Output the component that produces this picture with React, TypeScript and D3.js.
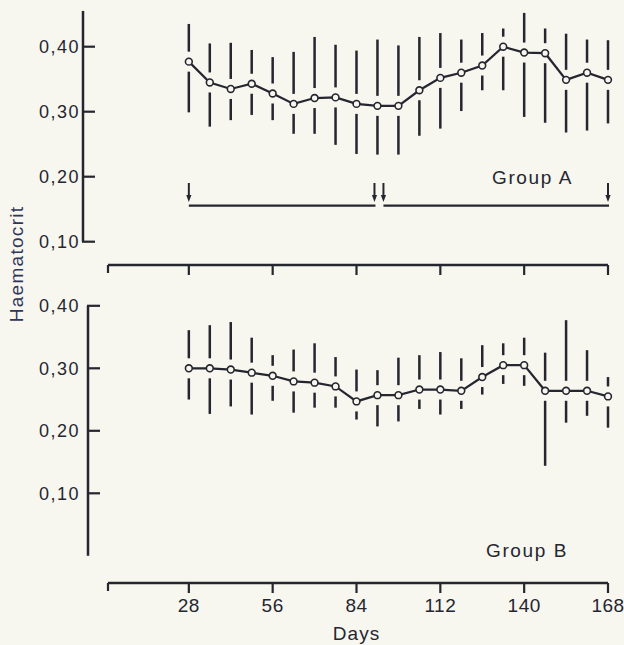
import React from "react";
import * as d3 from "d3";

const days = [28, 35, 42, 49, 56, 63, 70, 77, 84, 91, 98, 105, 112, 119, 126, 133, 140, 147, 154, 161, 168];
const groupAMean = [0.377, 0.345, 0.335, 0.343, 0.328, 0.312, 0.321, 0.322, 0.312, 0.309, 0.309, 0.333, 0.352, 0.36, 0.371, 0.4, 0.391, 0.39, 0.349, 0.36, 0.349];
const groupAHi = [0.435, 0.405, 0.406, 0.395, 0.384, 0.392, 0.415, 0.403, 0.394, 0.411, 0.402, 0.415, 0.421, 0.411, 0.421, 0.428, 0.452, 0.428, 0.42, 0.411, 0.41];
const groupALo = [0.299, 0.277, 0.287, 0.295, 0.287, 0.266, 0.266, 0.249, 0.235, 0.234, 0.234, 0.263, 0.274, 0.301, 0.333, 0.333, 0.292, 0.283, 0.268, 0.271, 0.282];
const groupBMean = [0.3, 0.3, 0.298, 0.293, 0.288, 0.279, 0.277, 0.271, 0.247, 0.257, 0.257, 0.266, 0.266, 0.264, 0.286, 0.305, 0.305, 0.264, 0.264, 0.264, 0.255];
const groupBHi = [0.361, 0.369, 0.374, 0.349, 0.321, 0.33, 0.34, 0.318, 0.298, 0.297, 0.317, 0.321, 0.326, 0.316, 0.337, 0.34, 0.349, 0.325, 0.377, 0.329, 0.286];
const groupBLo = [0.25, 0.227, 0.239, 0.226, 0.248, 0.229, 0.237, 0.237, 0.218, 0.207, 0.215, 0.235, 0.226, 0.235, 0.258, 0.275, 0.272, 0.144, 0.213, 0.224, 0.205];
const xTicks = [28, 56, 84, 112, 140, 168];
const yTicks = [0.1, 0.2, 0.3, 0.4];
const yTickLabels = ["0,10", "0,20", "0,30", "0,40"];
const arrowDays = [28, 90, 93, 168];
const periodSegments = [[28, 90], [93, 168]];

const W = 624, H = 645;
const INK = "#25262f";
const PAPER = "#f7f6ef";
const FONT = "'Liberation Sans', Arial, sans-serif";

const x = d3.scaleLinear().domain([0, 168]).range([105, 608]);
const yA = d3.scaleLinear().domain([0.1, 0.4]).range([241.7, 46.7]);
const yB = d3.scaleLinear().domain([0, 0.4]).range([555.8, 305.8]);

const GAP = 10;

function Panel({ mean, hi, lo, y }: { mean: number[]; hi: number[]; lo: number[]; y: d3.ScaleLinear<number, number> }) {
  const line = d3.line<number>().x((_, i) => x(days[i])).y((d) => y(d));
  return (
    <g>
      {days.map((d, i) => {
        const cx = x(d), cy = y(mean[i]);
        const top = y(hi[i]), bot = y(lo[i]);
        return (
          <g key={i}>
            {top < cy - GAP && <line x1={cx} x2={cx} y1={top} y2={cy - GAP} stroke={INK} strokeWidth={2.5} />}
            {bot > cy + GAP && <line x1={cx} x2={cx} y1={cy + GAP} y2={bot} stroke={INK} strokeWidth={2.5} />}
          </g>
        );
      })}
      <path d={line(mean) || ""} fill="none" stroke={INK} strokeWidth={2.2} />
      {days.map((d, i) => (
        <circle key={i} cx={x(d)} cy={y(mean[i])} r={3.4} fill={PAPER} stroke={INK} strokeWidth={1.6} />
      ))}
    </g>
  );
}

function YAxis({ y, axisX, top, bottom }: { y: d3.ScaleLinear<number, number>; axisX: number; top: number; bottom: number }) {
  return (
    <g>
      <line x1={axisX} x2={axisX} y1={y(top)} y2={y(bottom)} stroke={INK} strokeWidth={2.5} />
      {yTicks.map((t, i) => (
        <g key={i}>
          <line x1={axisX - 1} x2={axisX + 12} y1={y(t)} y2={y(t)} stroke={INK} strokeWidth={2.2} />
          <text x={80} y={y(t)} dy="0.36em" textAnchor="end" fontSize={18} letterSpacing={1.5} fill={INK} fontFamily={FONT}>
            {yTickLabels[i]}
          </text>
        </g>
      ))}
    </g>
  );
}

function XAxis({ yPos, labels }: { yPos: number; labels: boolean }) {
  const start = x(1);
  const end = x(168);
  return (
    <g>
      <line x1={start} x2={end} y1={yPos} y2={yPos} stroke={INK} strokeWidth={2.5} />
      <line x1={start} x2={start} y1={yPos} y2={yPos + 8} stroke={INK} strokeWidth={2.2} />
      {xTicks.map((t) => (
        <g key={t}>
          <line x1={x(t)} x2={x(t)} y1={yPos} y2={yPos + 10} stroke={INK} strokeWidth={2.2} />
          {labels && (
            <text x={x(t)} y={yPos + 29} textAnchor="middle" fontSize={19} letterSpacing={0.5} fill={INK} fontFamily={FONT}>
              {t}
            </text>
          )}
        </g>
      ))}
    </g>
  );
}

export default function App() {
  const arrowTop = 183;
  const arrowTip = 202;
  const periodY = 205.7;
  return (
    <svg width={W} height={H} style={{ position: "absolute", left: 0, top: 0 }}>
      <rect x={0} y={0} width={W} height={H} fill={PAPER} />
      {/* top panel */}
      <YAxis y={yA} axisX={83} top={0.455} bottom={0.1} />
      <Panel mean={groupAMean} hi={groupAHi} lo={groupALo} y={yA} />
      <XAxis yPos={265} labels={false} />
      {arrowDays.map((d, i) => (
        <g key={i}>
          <line x1={x(d)} x2={x(d)} y1={arrowTop} y2={arrowTip - 5} stroke={INK} strokeWidth={2} />
          <path d={`M${x(d) - 2.6},${arrowTip - 7} L${x(d) + 2.6},${arrowTip - 7} L${x(d)},${arrowTip} Z`} fill={INK} />
        </g>
      ))}
      {periodSegments.map((s, i) => (
        <line key={i} x1={x(s[0])} x2={x(s[1]) + 1} y1={periodY} y2={periodY} stroke={INK} strokeWidth={2.2} />
      ))}
      <text x={492} y={183.5} fontSize={19} letterSpacing={1.6} fill={INK} fontFamily={FONT}>Group A</text>

      {/* bottom panel */}
      <YAxis y={yB} axisX={88} top={0.4} bottom={0} />
      <Panel mean={groupBMean} hi={groupBHi} lo={groupBLo} y={yB} />
      <XAxis yPos={583} labels={true} />
      <text x={486} y={556.5} fontSize={19} letterSpacing={1.6} fill={INK} fontFamily={FONT}>Group B</text>
      <text x={x(84)} y={640} textAnchor="middle" fontSize={19} letterSpacing={1} fill={INK} fontFamily={FONT}>Days</text>
      <text transform={`translate(23,264) rotate(-90)`} textAnchor="middle" fontSize={19} letterSpacing={1.3} fill="#30355a" fontFamily={FONT}>
        Haematocrit
      </text>
    </svg>
  );
}
